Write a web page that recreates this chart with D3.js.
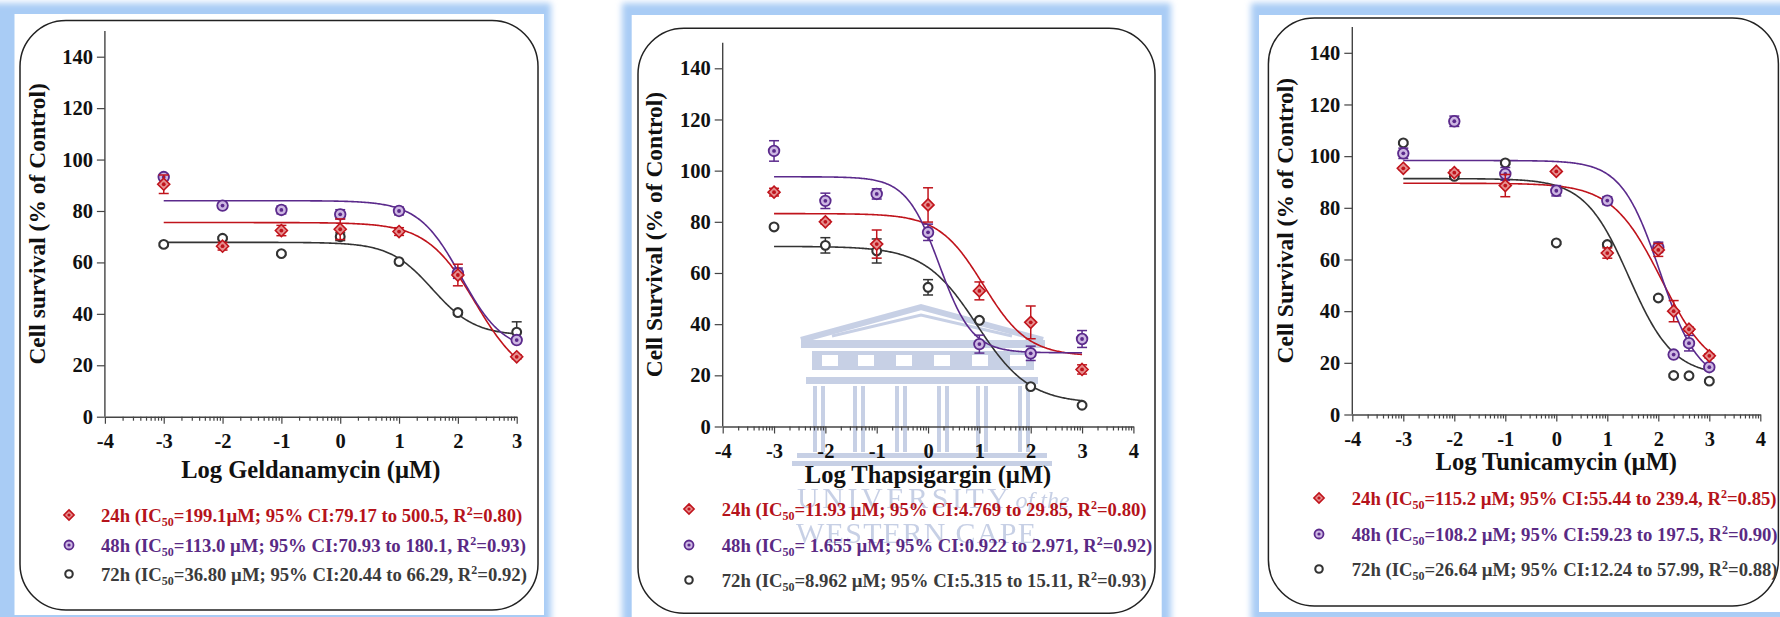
<!DOCTYPE html>
<html>
<head>
<meta charset="utf-8">
<script src="https://cdn.jsdelivr.net/npm/d3@7"></script>
<style>
  html, body { margin: 0; padding: 0; background: #fff; }
  svg { display: block; }
</style>
</head>
<body>
<svg id="fig" width="1780" height="617"></svg>
<script>
// ---------------- data ----------------
// Geldanamycin (log µM)
const geldDose   = [-3, -2, -1, 0, 1, 2, 3];
const geld24     = [90.4, 66.3, 72.4, 72.9, 72.0, 55.1, 23.3];
const geld24Err  = [3.6, 1.5, 2.0, 4.0, 1.5, 4.2, 0.8];
const geld48     = [93.2, 82.1, 80.4, 78.7, 80.0, 55.8, 29.8];
const geld48Err  = [1.0, 0.8, 1.5, 1.8, 1.5, 2.0, 1.0];
const geld72     = [67.0, 69.4, 63.4, 70.0, 60.3, 40.5, 32.9];
const geld72Err  = [0.5, 0.5, 0.5, 1.5, 0.5, 0.8, 4.0];
const geldIC50   = ["199.1", "113.0", "36.80"];
const geldGap    = ["", " ", " "];
const geldCILo   = ["79.17", "70.93", "20.44"];
const geldCIHi   = ["500.5", "180.1", "66.29"];
const geldR2     = ["0.80", "0.93", "0.92"];
const geldTop    = [75.5, 84.0, 67.8];
const geldBottom = [13.0, 25.0, 31.5];
const geldHill   = [1.05, 1.2, 1.2];

// Thapsigargin (log µM)
const thapDose   = [-3, -2, -1, 0, 1, 2, 3];
const thap24     = [91.6, 80.0, 71.3, 86.6, 53.0, 40.7, 22.3];
const thap24Err  = [1.5, 0.8, 5.5, 6.7, 3.5, 6.4, 1.8];
const thap48     = [107.7, 88.2, 90.9, 75.9, 32.2, 28.6, 34.2];
const thap48Err  = [4.0, 3.0, 2.0, 3.2, 3.5, 2.8, 3.3];
const thap72     = [78.0, 70.8, 68.6, 54.4, 41.5, 15.6, 8.3];
const thap72Err  = [0.5, 3.0, 4.7, 3.0, 0.5, 0.5, 0.5];
const thapIC50   = ["11.93", " 1.655", "8.962"];
const thapGap    = [" ", " ", " "];
const thapCILo   = ["4.769", "0.922", "5.315"];
const thapCIHi   = ["29.85", "2.971", "15.11"];
const thapR2     = ["0.80", "0.92", "0.93"];
const thapTop    = [83.2, 97.6, 70.4];
const thapBottom = [27.5, 28.8, 9.0];
const thapHill   = [1.0, 1.35, 0.85];

// Tunicamycin (log µM)
const tuniDose   = [-3, -2, -1, 0, 1, 2, 2.301, 2.602, 3];
const tuni24     = [95.3, 93.6, 88.6, 94.1, 62.5, 63.7, 40.0, 33.0, 22.7];
const tuni24Err  = [0.5, 1.0, 4.3, 0.5, 2.0, 2.5, 4.1, 0.8, 0.8];
const tuni48     = [101.1, 113.5, 93.1, 86.6, 82.8, 64.7, 23.2, 27.6, 18.3];
const tuni48Err  = [2.0, 2.0, 2.5, 2.0, 1.5, 2.0, 0.5, 3.0, 0.8];
const tuni72     = [105.1, 92.2, 97.4, 66.4, 65.8, 45.1, 15.1, 15.0, 12.9];
const tuni72Err  = [0.5, 1.0, 0.5, 0.5, 0.5, 0.5, 0.5, 0.5, 0.5];
const tuniIC50   = ["115.2", "108.2", "26.64"];
const tuniGap    = [" ", " ", " "];
const tuniCILo   = ["55.44", "59.23", "12.24"];
const tuniCIHi   = ["239.4", "197.5", "57.99"];
const tuniR2     = ["0.85", "0.90", "0.88"];
const tuniTop    = [89.5, 98.3, 91.3];
const tuniBottom = [15.0, 12.0, 15.0];
const tuniHill   = [0.9, 1.15, 1.0];

const timepoints = ["24h", "48h", "72h"];
const yTicks = [0, 20, 40, 60, 80, 100, 120, 140];

// ---------------- styling ----------------
const FONT = "'Liberation Serif', 'Times New Roman', serif";
const lineColors = ["#c0141c", "#5b2a8c", "#333333"];
const textColors = ["#b5131b", "#5a2a84", "#3b3b3b"];
const markerFill = ["#e68f8f", "#cdb7e2", "#ffffff"];

// page layout of the three figures
const panels = [
  {
    dose: geldDose, values: [geld24, geld48, geld72], errs: [geld24Err, geld48Err, geld72Err],
    ic50: geldIC50, gap: geldGap, lo: geldCILo, hi: geldCIHi, r2: geldR2,
    top: geldTop, bottom: geldBottom, hill: geldHill,
    xMax: 3, xTitle: "Log Geldanamycin (\u00b5M)", yTitle: "Cell survival (% of Control)",
    left: 104.9, right: 516.7, y0: 416.7, y140: 56.7,
    xTitleY: 470, yTitleX: 37,
    legX: 69, legTextX: 101, legY: [516, 546, 575],
    frame: { ox: -10, oy: 3, ow: 561, oh: 630, ix: 14.5, iy: 14, iw: 529.5, ih: 601 },
    box: { x: 20, y: 20.5, w: 518, h: 589.5 }
  },
  {
    dose: thapDose, values: [thap24, thap48, thap72], errs: [thap24Err, thap48Err, thap72Err],
    ic50: thapIC50, gap: thapGap, lo: thapCILo, hi: thapCIHi, r2: thapR2,
    top: thapTop, bottom: thapBottom, hill: thapHill,
    xMax: 4, xTitle: "Log Thapsigargin (\u00b5M)", yTitle: "Cell Survival (% of Control)",
    left: 722.7, right: 1133.4, y0: 426.5, y140: 68.3,
    xTitleY: 475, yTitleX: 654,
    legX: 689, legTextX: 721.7, legY: [510, 546, 581],
    frame: { ox: 622, oy: 3, ow: 549, oh: 650, ix: 631.7, iy: 15, iw: 530, ih: 640 },
    box: { x: 638, y: 28.3, w: 517, h: 585 },
    watermark: true
  },
  {
    dose: tuniDose, values: [tuni24, tuni48, tuni72], errs: [tuni24Err, tuni48Err, tuni72Err],
    ic50: tuniIC50, gap: tuniGap, lo: tuniCILo, hi: tuniCIHi, r2: tuniR2,
    top: tuniTop, bottom: tuniBottom, hill: tuniHill,
    xMax: 4, xTitle: "Log Tunicamycin (\u00b5M)", yTitle: "Cell Survival (% of Control)",
    left: 1352.3, right: 1760.3, y0: 414.5, y140: 52.8,
    xTitleY: 462, yTitleX: 1285,
    legX: 1319, legTextX: 1351.7, legY: [499, 535, 570],
    frame: { ox: 1251, oy: 3, ow: 560, oh: 619, ix: 1259, iy: 15, iw: 560, ih: 597 },
    box: { x: 1268.4, y: 18, w: 510, h: 588 }
  }
];

const svg = d3.select("#fig");
svg.append("rect").attr("width", 1780).attr("height", 617).attr("fill", "#fff");

const defs = svg.append("defs");
defs.append("filter").attr("id", "glow")
  .attr("x", "-5%").attr("y", "-5%").attr("width", "110%").attr("height", "110%")
  .append("feGaussianBlur").attr("stdDeviation", 3);

// four-parameter logistic fit, centred on the stated IC50
function logistic(x, top, bottom, logIC50, hill) {
  return bottom + (top - bottom) / (1 + Math.pow(10, (x - logIC50) * hill));
}

function drawMarker(sel, i, s) {
  // s: scale of the marker
  if (i === 0) {
    const r = 6 * s;
    sel.append("path")
      .attr("d", `M0,${-r}L${r},0L0,${r}L${-r},0Z`)
      .attr("fill", markerFill[0]).attr("stroke", lineColors[0]).attr("stroke-width", 1.6);
    sel.append("circle").attr("r", 1.9 * s).attr("fill", lineColors[0]);
  } else if (i === 1) {
    sel.append("circle").attr("r", 5.3 * s)
      .attr("fill", markerFill[1]).attr("stroke", lineColors[1]).attr("stroke-width", 1.8);
    sel.append("circle").attr("r", 1.9 * s).attr("fill", lineColors[1]);
  } else {
    sel.append("circle").attr("r", 4.4 * s)
      .attr("fill", "#fff").attr("stroke", lineColors[2]).attr("stroke-width", 2.1);
  }
}

function drawWatermark(g) {
  const c = "#c2cbe3";
  const w = g.append("g").attr("opacity", 0.9);
  // pediment
  w.append("path").attr("d", "M801,340 L921,307 L1043,340")
    .attr("fill", "none").attr("stroke", c).attr("stroke-width", 6);
  w.append("path").attr("d", "M832,336 L921,315 L1012,336")
    .attr("fill", "none").attr("stroke", c).attr("stroke-width", 3);
  w.append("rect").attr("x", 801).attr("y", 340).attr("width", 244).attr("height", 8).attr("fill", c);
  // frieze with openings
  w.append("rect").attr("x", 812).attr("y", 351).attr("width", 222).attr("height", 19).attr("fill", c);
  [822, 858, 896, 934, 972, 1010].forEach(xx => {
    w.append("rect").attr("x", xx).attr("y", 355).attr("width", 16).attr("height", 11).attr("fill", "#fff");
  });
  w.append("rect").attr("x", 806).attr("y", 377).attr("width", 232).attr("height", 7).attr("fill", c);
  // columns
  [820, 860, 902, 944, 983, 1025].forEach(xx => {
    w.append("rect").attr("x", xx - 7).attr("y", 386).attr("width", 4).attr("height", 66).attr("fill", c);
    w.append("rect").attr("x", xx + 1).attr("y", 386).attr("width", 4).attr("height", 66).attr("fill", c);
  });
  // steps
  w.append("rect").attr("x", 797).attr("y", 453).attr("width", 250).attr("height", 5).attr("fill", c);
  w.append("rect").attr("x", 792).attr("y", 461).attr("width", 260).attr("height", 5).attr("fill", c);
  // name
  const t1 = w.append("text").attr("x", 797).attr("y", 508)
    .attr("font-family", FONT).attr("font-size", 30).attr("fill", c);
  t1.append("tspan").attr("textLength", 212).attr("lengthAdjust", "spacing").text("UNIVERSITY");
  t1.append("tspan").attr("dx", 3).attr("font-style", "italic").attr("font-size", 24).text("of the");
  w.append("text").attr("x", 796).attr("y", 543)
    .attr("font-family", FONT).attr("font-size", 30).attr("fill", c)
    .attr("textLength", 240).attr("lengthAdjust", "spacing").text("WESTERN CAPE");
}

panels.forEach(p => {
  const g = svg.append("g");

  // blue glowing frame and white sheet
  const f = p.frame;
  g.append("rect").attr("x", f.ox).attr("y", f.oy).attr("width", f.ow).attr("height", f.oh)
    .attr("fill", "#a9ccf5").attr("filter", "url(#glow)");
  g.append("rect").attr("x", f.ix).attr("y", f.iy).attr("width", f.iw).attr("height", f.ih)
    .attr("fill", "#fff");

  // rounded outline
  g.append("rect").attr("x", p.box.x).attr("y", p.box.y).attr("width", p.box.w).attr("height", p.box.h)
    .attr("rx", 46).attr("ry", 46).attr("fill", "none").attr("stroke", "#222").attr("stroke-width", 1.5);

  if (p.watermark) drawWatermark(g);

  const x = d3.scaleLinear().domain([-4, p.xMax]).range([p.left, p.right]);
  const y = d3.scaleLinear().domain([0, 140]).range([p.y0, p.y140]);

  // y axis (line runs to 150)
  const yAx = g.append("g").attr("transform", `translate(${p.left},0)`)
    .call(d3.axisLeft(y).tickValues(yTicks).tickSize(8).tickSizeOuter(0).tickPadding(4));
  yAx.select(".domain").remove();
  yAx.append("line").attr("x1", 0).attr("x2", 0).attr("y1", y(0)).attr("y2", y(150))
    .attr("stroke", "#444").attr("stroke-width", 1.4);

  // x axis: decades plus log-spaced minor ticks
  const major = d3.range(-4, p.xMax + 1);
  const minor = [];
  for (let d = -4; d < p.xMax; d++) for (let k = 2; k <= 9; k++) minor.push(d + Math.log10(k));
  const xAx = g.append("g").attr("transform", `translate(0,${p.y0})`)
    .call(d3.axisBottom(x).tickValues(major).tickSize(7).tickSizeOuter(0).tickPadding(10)
      .tickFormat(d3.format("d")));
  xAx.select(".domain").attr("stroke", "#444").attr("stroke-width", 1.4);
  const xMin = g.append("g").attr("transform", `translate(0,${p.y0})`)
    .call(d3.axisBottom(x).tickValues(minor).tickSize(4).tickSizeOuter(0).tickFormat(""));
  xMin.select(".domain").remove();

  [yAx, xAx, xMin].forEach(a => {
    a.selectAll(".tick line").attr("stroke", "#444").attr("stroke-width", 1.2);
    a.selectAll(".tick text").attr("font-family", FONT).attr("font-weight", "bold")
      .attr("font-size", 20.5).attr("fill", "#111");
  });
  xAx.selectAll(".tick text").text(d => (d < 0 ? "-" + Math.abs(d) : d));

  // axis titles
  g.append("text").attr("x", (p.left + p.right) / 2).attr("y", p.xTitleY + 8)
    .attr("text-anchor", "middle").attr("font-family", FONT).attr("font-weight", "bold")
    .attr("font-size", 24.5).attr("fill", "#111").text(p.xTitle);
  g.append("text")
    .attr("transform", `translate(${p.yTitleX + 8},${(y(0) + y(150)) / 2}) rotate(-90)`)
    .attr("text-anchor", "middle").attr("font-family", FONT).attr("font-weight", "bold")
    .attr("font-size", 23.5).attr("fill", "#111").text(p.yTitle);

  // fitted curves
  const xs = d3.range(-3, 3.0001, 0.02);
  const line = d3.line().x(d => x(d[0])).y(d => y(d[1]));
  [2, 0, 1].forEach(i => {
    const L = Math.log10(parseFloat(p.ic50[i]));
    const pts = xs.map(v => [v, logistic(v, p.top[i], p.bottom[i], L, p.hill[i])]);
    g.append("path").attr("d", line(pts)).attr("fill", "none")
      .attr("stroke", lineColors[i]).attr("stroke-width", 1.6);
  });

  // points with SEM bars
  [2, 1, 0].forEach(i => {
    p.dose.forEach((d, j) => {
      const v = p.values[i][j], e = p.errs[i][j];
      const cx = x(d);
      const eg = g.append("g").attr("stroke", lineColors[i]).attr("stroke-width", 1.5);
      eg.append("line").attr("x1", cx).attr("x2", cx).attr("y1", y(v - e)).attr("y2", y(v + e));
      eg.append("line").attr("x1", cx - 5).attr("x2", cx + 5).attr("y1", y(v - e)).attr("y2", y(v - e));
      eg.append("line").attr("x1", cx - 5).attr("x2", cx + 5).attr("y1", y(v + e)).attr("y2", y(v + e));
      drawMarker(g.append("g").attr("transform", `translate(${cx},${y(v)})`), i, 1);
    });
  });

  // legend
  timepoints.forEach((tp, i) => {
    const ly = p.legY[i];
    drawMarker(g.append("g").attr("transform", `translate(${p.legX},${ly - 1})`), i, 0.85);
    const t = g.append("text").attr("x", p.legTextX).attr("y", ly + 6)
      .attr("font-family", FONT).attr("font-weight", "bold").attr("font-size", 18.7)
      .attr("fill", textColors[i]);
    t.append("tspan").text(`${tp} (IC`);
    t.append("tspan").attr("font-size", 12).attr("dy", 4).text("50");
    t.append("tspan").attr("dy", -4)
      .text(`=${p.ic50[i]}${p.gap[i]}\u00b5M; 95% CI:${p.lo[i]} to ${p.hi[i]}, R`);
    t.append("tspan").attr("font-size", 12).attr("dy", -7).text("2");
    t.append("tspan").attr("dy", 7).text(`=${p.r2[i]})`);
  });
});
</script>
</body>
</html>
